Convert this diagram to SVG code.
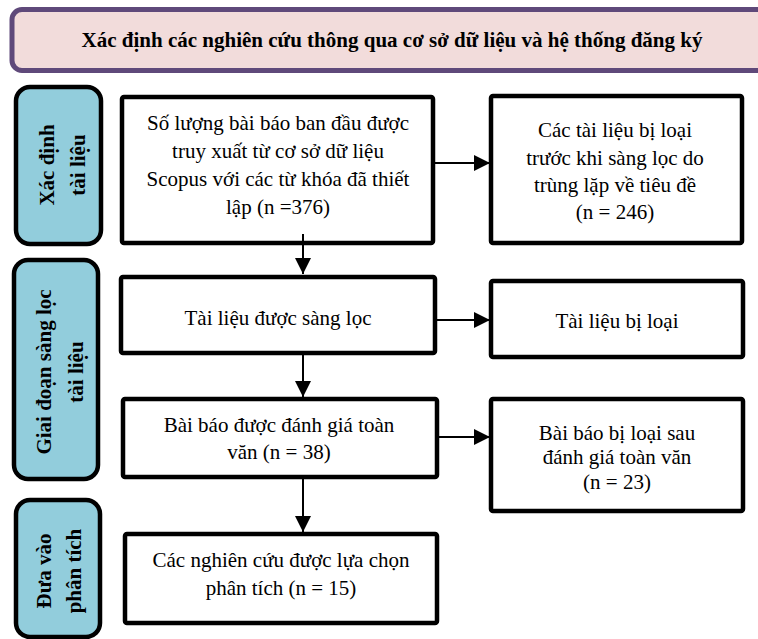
<svg xmlns="http://www.w3.org/2000/svg" width="758" height="639" viewBox="0 0 758 639">
<defs>
<style>
.t{font-family:"Liberation Serif","Times New Roman",serif;font-size:21px;fill:#000;text-anchor:middle}
.b{font-weight:bold}
.box{fill:#fff;stroke:#000;stroke-width:4.5}
.side{fill:#92cddc;stroke:#000;stroke-width:4.5}
.ln{stroke:#000;stroke-width:2;fill:none}
</style>
<marker id="ah" viewBox="0 0 16 16" refX="16" refY="8" markerWidth="16" markerHeight="16" markerUnits="userSpaceOnUse" orient="auto">
<path d="M0,0 L16,8 L0,16 Z" fill="#000"/>
</marker>
</defs>
<rect width="758" height="639" fill="#fff"/>

<g id="header">
<rect x="12" y="9.5" width="760" height="61" rx="10" fill="#f2dcdb" stroke="#5f497a" stroke-width="5"/>
<text class="t b" x="392" y="47">Xác định các nghiên cứu thông qua cơ sở dữ liệu và hệ thống đăng ký</text>
</g>

<g id="side1">
<rect class="side" x="16" y="87" width="85" height="157" rx="14"/>
<text class="t b" transform="translate(0,165) rotate(-90)"><tspan x="0" y="54">Xác định</tspan><tspan x="0" y="85">tài liệu</tspan></text>
</g>
<g id="side2">
<rect class="side" x="14" y="260" width="84" height="219" rx="14"/>
<text class="t b" transform="translate(0,372) rotate(-90)"><tspan x="0" y="51">Giai đoạn sàng lọc</tspan><tspan x="0" y="83">tài liệu</tspan></text>
</g>
<g id="side3">
<rect class="side" x="16" y="500" width="84" height="137" rx="14"/>
<text class="t b" transform="translate(0,571) rotate(-90)"><tspan x="0" y="51">Đưa vào</tspan><tspan x="0" y="81">phân tích</tspan></text>
</g>

<g id="boxA">
<rect class="box" x="122" y="97" width="311" height="146" rx="2"/>
<text class="t"><tspan x="278" y="130">Số lượng bài báo ban đầu được</tspan><tspan x="278" y="158">truy xuất từ cơ sở dữ liệu</tspan><tspan x="278" y="186">Scopus với các từ khóa đã thiết</tspan><tspan x="278" y="214">lập (n =376)</tspan></text>
</g>
<g id="boxB">
<rect class="box" x="491" y="96" width="251" height="147" rx="2"/>
<text class="t"><tspan x="615" y="137">Các tài liệu bị loại</tspan><tspan x="615" y="165">trước khi sàng lọc do</tspan><tspan x="615" y="192">trùng lặp về tiêu đề</tspan><tspan x="615" y="219">(n = 246)</tspan></text>
</g>
<g id="boxC">
<rect class="box" x="121" y="277" width="314" height="76" rx="2"/>
<text class="t" x="278" y="325">Tài liệu được sàng lọc</text>
</g>
<g id="boxE">
<rect class="box" x="491" y="281" width="252" height="76" rx="2"/>
<text class="t" x="617" y="328">Tài liệu bị loại</text>
</g>
<g id="boxD">
<rect class="box" x="123" y="399" width="314" height="78" rx="2"/>
<text class="t"><tspan x="279" y="432">Bài báo được đánh giá toàn</tspan><tspan x="279" y="459">văn (n = 38)</tspan></text>
</g>
<g id="boxF">
<rect class="box" x="491" y="399" width="252" height="112" rx="2"/>
<text class="t"><tspan x="617" y="440">Bài báo bị loại sau</tspan><tspan x="617" y="464">đánh giá toàn văn</tspan><tspan x="617" y="489">(n = 23)</tspan></text>
</g>
<g id="boxG">
<rect class="box" x="125" y="534" width="312" height="89" rx="2"/>
<text class="t"><tspan x="281" y="567">Các nghiên cứu được lựa chọn</tspan><tspan x="281" y="595">phân tích (n = 15)</tspan></text>
</g>

<g id="connectors">
<line class="ln" x1="433" y1="163" x2="490" y2="163" marker-end="url(#ah)"/>
<line class="ln" x1="435" y1="320" x2="490" y2="320" marker-end="url(#ah)"/>
<line class="ln" x1="437" y1="437" x2="490" y2="437" marker-end="url(#ah)"/>
<line class="ln" x1="303" y1="234" x2="303" y2="274" marker-end="url(#ah)"/>
<line class="ln" x1="303" y1="353" x2="303" y2="397" marker-end="url(#ah)"/>
<line class="ln" x1="303" y1="477" x2="303" y2="532" marker-end="url(#ah)"/>
</g>
</svg>
